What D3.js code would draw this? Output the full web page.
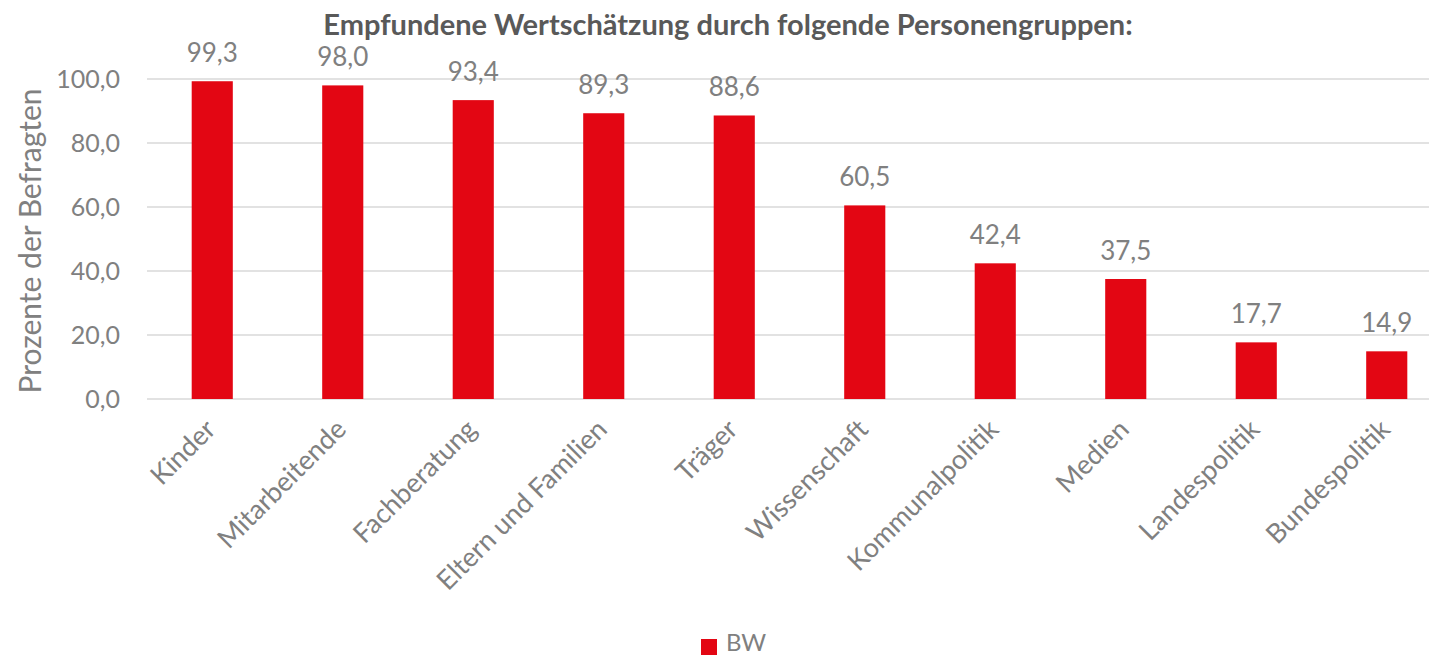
<!DOCTYPE html>
<html>
<head>
<meta charset="utf-8">
<script src="https://cdn.jsdelivr.net/npm/d3@7"></script>
<style>
  body { margin: 0; background: #fff; }
  text { font-family: Lato, "Open Sans", sans-serif; }
</style>
</head>
<body>
<script>
// Wertschätzung chart

var categories = ["Kinder", "Mitarbeitende", "Fachberatung", "Eltern und Familien", "Träger",
                  "Wissenschaft", "Kommunalpolitik", "Medien", "Landespolitik", "Bundespolitik"];
var values = [99.3, 98.0, 93.4, 89.3, 88.6, 60.5, 42.4, 37.5, 17.7, 14.9];
var yTicks = [0, 20, 40, 60, 80, 100];
var seriesName = "BW";

var width = 1429;
var height = 657;

var barColor = "#E30613";
var textColor = "#808080";

var svg = d3.select("body").append("svg")
    .attr("width", width)
    .attr("height", height);

var fmt = function(v) { return d3.format(".1f")(v).replace(".", ","); };

// plot area (right side runs a bit past the picture edge, like the original)
var x = d3.scaleBand()
    .domain(categories)
    .range([147, 1452])
    .paddingInner(0.685)
    .paddingOuter(0.3425);

var y = d3.scaleLinear()
    .domain([0, 100])
    .range([399, 79]);

// gridlines
svg.append("g")
    .selectAll("line")
    .data(yTicks)
    .enter().append("line")
    .attr("x1", 147)
    .attr("x2", 1452)
    .attr("y1", function(d) { return y(d); })
    .attr("y2", function(d) { return y(d); })
    .attr("stroke", "#d9d9d9")
    .attr("stroke-width", 1.5);

// y axis labels
var yAxis = d3.axisLeft(y).tickValues(yTicks).tickFormat(fmt).tickSize(0).tickPadding(27);
var gy = svg.append("g").attr("transform", "translate(147,0)").call(yAxis);
gy.select(".domain").remove();
gy.selectAll("text")
    .attr("fill", textColor)
    .style("font-size", "25px")
    .style("font-family", "Lato, sans-serif");

// bars
svg.append("g")
    .selectAll("rect")
    .data(values)
    .enter().append("rect")
    .attr("x", function(d, i) { return x(categories[i]); })
    .attr("y", function(d) { return y(d); })
    .attr("width", x.bandwidth())
    .attr("height", function(d) { return y(0) - y(d); })
    .attr("fill", barColor);

// value labels
svg.append("g")
    .selectAll("text")
    .data(values)
    .enter().append("text")
    .attr("x", function(d, i) { return x(categories[i]) + x.bandwidth() / 2; })
    .attr("y", function(d) { return y(d) - 19; })
    .attr("text-anchor", "middle")
    .attr("fill", textColor)
    .style("font-size", "26px")
    .text(fmt);

// category labels
svg.append("g")
    .selectAll("text")
    .data(categories)
    .enter().append("text")
    .attr("transform", function(d) {
        var cx = x(d) + x.bandwidth() / 2;
        return "translate(" + (cx + 5) + ",431) rotate(-45)";
    })
    .attr("text-anchor", "end")
    .attr("fill", textColor)
    .style("font-size", "27px")
    .text(function(d) { return d; });

// y axis title
svg.append("text")
    .attr("transform", "translate(41,241) rotate(-90)")
    .attr("text-anchor", "middle")
    .attr("fill", textColor)
    .style("font-size", "30px")
    .text("Prozente der Befragten");

// title
svg.append("text")
    .attr("x", 728)
    .attr("y", 35)
    .attr("text-anchor", "middle")
    .attr("fill", "#595959")
    .style("font-size", "29px")
    .style("font-weight", "bold")
    .text("Empfundene Wertschätzung durch folgende Personengruppen:");

// legend
svg.append("rect")
    .attr("x", 701)
    .attr("y", 639)
    .attr("width", 16)
    .attr("height", 16)
    .attr("fill", barColor);

svg.append("text")
    .attr("x", 726)
    .attr("y", 651)
    .attr("fill", textColor)
    .style("font-size", "24px")
    .text(seriesName);
</script>
</body>
</html>
